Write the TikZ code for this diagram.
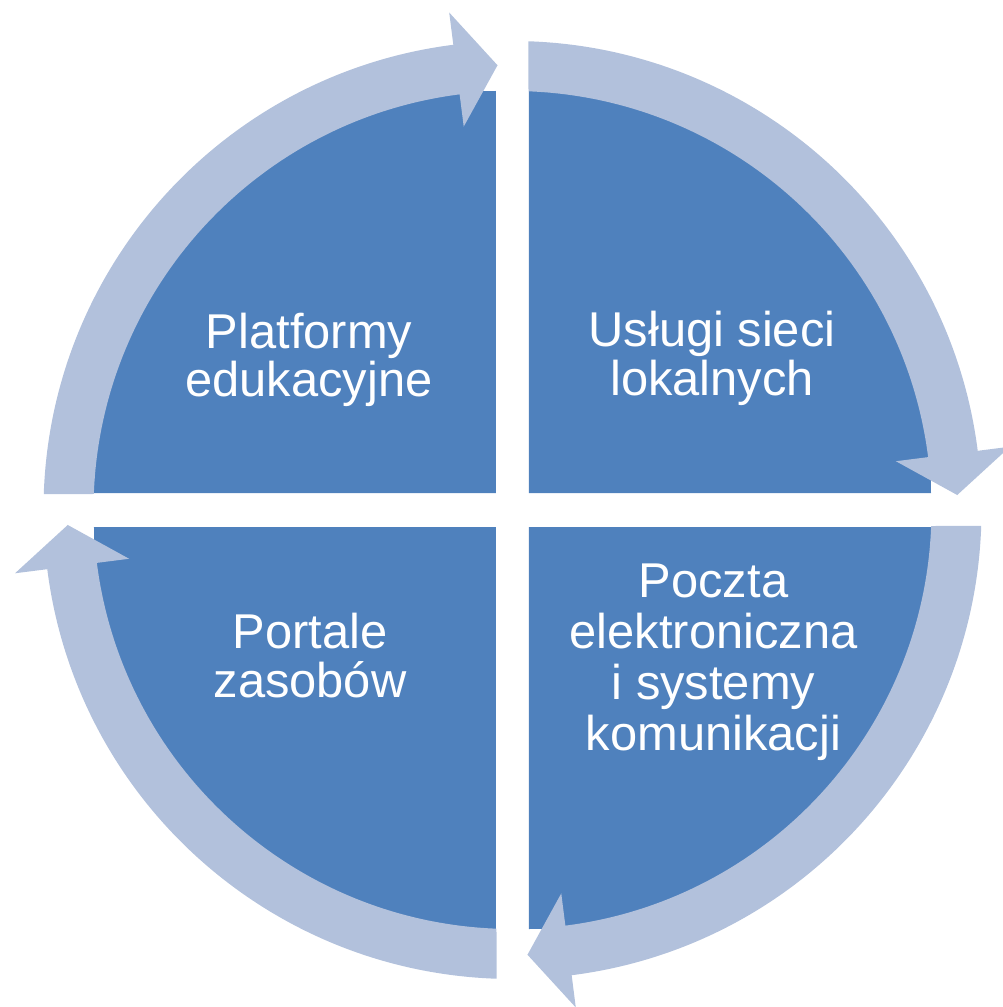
\documentclass[tikz,border=0pt]{standalone}
\usepackage{fontspec}
\setmainfont{Liberation Sans}
\definecolor{klin}{HTML}{4F81BD}
\definecolor{pierscien}{HTML}{B2C1DC}
\tikzset{
  klinfill/.style={fill=klin},
  strzalka/.style={fill=pierscien},
  etykieta/.style={text=white, align=center, inner sep=0pt, anchor=base,
    font=\fontsize{13.9pt}{13.8pt}\selectfont}
}
\begin{document}
\begin{tikzpicture}[scale=1]
      \useasboundingbox (-5.125,-4.97) rectangle (4.905,5.10);
      % Cwiartki
      \fill[klinfill] (-0.165, 0.17) -- ++(-4.02,0) arc[start angle=180, end angle=90,   radius=4.02] -- cycle;
      \fill[klinfill] ( 0.165, 0.17) -- ++(0, 4.02) arc[start angle=90,  end angle=0,    radius=4.02] -- cycle;
      \fill[klinfill] ( 0.165,-0.17) -- ++( 4.02,0) arc[start angle=0,   end angle=-90,  radius=4.02] -- cycle;
      \fill[klinfill] (-0.165,-0.17) -- ++(0,-4.02) arc[start angle=-90, end angle=-180, radius=4.02] -- cycle;

      % Strzalki na okregu
      \fill[strzalka] (178.05:4.69) arc[start angle=178.05, end angle=97.25, radius=4.69]
        -- (97.25:5.015) -- (91.93:4.45) -- (97.25:3.865) -- (97.25:4.19)
        arc[start angle=97.25, end angle=177.81, radius=4.19] -- cycle;
      \fill[strzalka] (88.05:4.69) arc[start angle=88.05, end angle=7.25, radius=4.69]
        -- (7.25:5.015) -- (1.93:4.45) -- (7.25:3.865) -- (7.25:4.19)
        arc[start angle=7.25, end angle=87.81, radius=4.19] -- cycle;
      \fill[strzalka] (-1.95:4.69) arc[start angle=-1.95, end angle=-82.75, radius=4.69]
        -- (-82.75:5.015) -- (-88.07:4.45) -- (-82.75:3.865) -- (-82.75:4.19)
        arc[start angle=-82.75, end angle=-2.19, radius=4.19] -- cycle;
      \fill[strzalka] (-91.95:4.69) arc[start angle=-91.95, end angle=-172.75, radius=4.69]
        -- (-172.75:5.015) -- (-178.07:4.45) -- (-172.75:3.865) -- (-172.75:4.19)
        arc[start angle=-172.75, end angle=-92.19, radius=4.19] -- cycle;

      % Opisy
      \node[etykieta] (platformy) at (-2.035, 1.133) {Platformy\\edukacyjne};
      \node[etykieta] (uslugi)    at ( 1.995, 1.150) {Usługi sieci\\lokalnych};
      \node[etykieta] (portale)   at (-2.025,-1.870) {Portale\\zasobów};
      \node[etykieta, font=\fontsize{13.9pt}{14.5pt}\selectfont]
                      (poczta)    at ( 2.010,-2.400) {Poczta\\elektroniczna\\i systemy\\komunikacji};

    \end{tikzpicture}
\end{document}
